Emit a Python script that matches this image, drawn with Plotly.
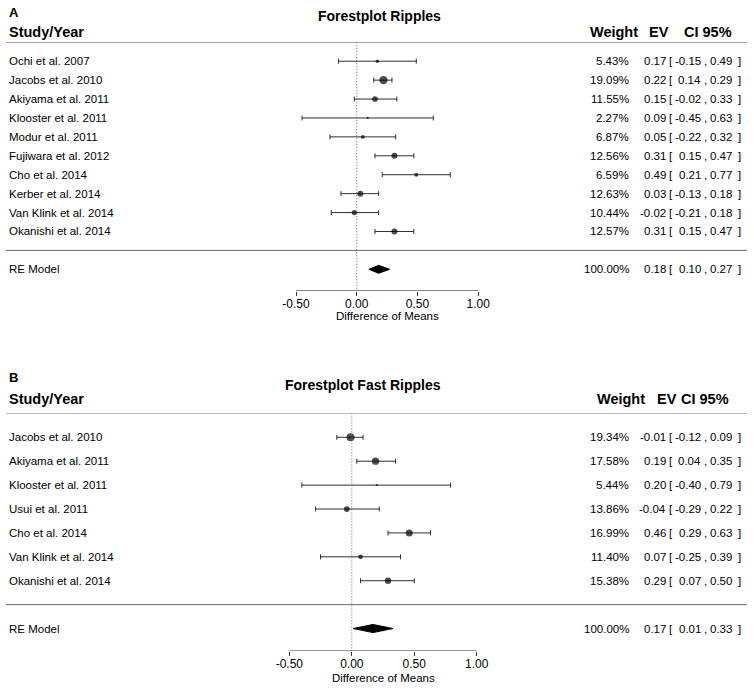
import plotly.graph_objects as go

# ---------------- data ----------------
studies_a = ["Ochi et al. 2007", "Jacobs et al. 2010", "Akiyama et al. 2011",
             "Klooster et al. 2011", "Modur et al. 2011", "Fujiwara et al. 2012",
             "Cho et al. 2014", "Kerber et al. 2014", "Van Klink et al. 2014",
             "Okanishi et al. 2014"]
weights_a = [5.43, 19.09, 11.55, 2.27, 6.87, 12.56, 6.59, 12.63, 10.44, 12.57]
ev_a = [0.17, 0.22, 0.15, 0.09, 0.05, 0.31, 0.49, 0.03, -0.02, 0.31]
lo_a = [-0.15, 0.14, -0.02, -0.45, -0.22, 0.15, 0.21, -0.13, -0.21, 0.15]
hi_a = [0.49, 0.29, 0.33, 0.63, 0.32, 0.47, 0.77, 0.18, 0.18, 0.47]
re_a = [100.00, 0.18, 0.10, 0.27]  # weight, EV, lower, upper

studies_b = ["Jacobs et al. 2010", "Akiyama et al. 2011", "Klooster et al. 2011",
             "Usui et al. 2011", "Cho et al. 2014", "Van Klink et al. 2014",
             "Okanishi et al. 2014"]
weights_b = [19.34, 17.58, 5.44, 13.86, 16.99, 11.40, 15.38]
ev_b = [-0.01, 0.19, 0.20, -0.04, 0.46, 0.07, 0.29]
lo_b = [-0.12, 0.04, -0.40, -0.29, 0.29, -0.25, 0.07]
hi_b = [0.09, 0.35, 0.79, 0.22, 0.63, 0.39, 0.50]
re_b = [100.00, 0.17, 0.01, 0.33]

tick_vals = [-0.5, 0.0, 0.5, 1.0]
tick_text = ["-0.50", "0.00", "0.50", "1.00"]
titles = ["Forestplot Ripples", "Forestplot Fast Ripples"]
panel_letters = ["A", "B"]
x_label = "Difference of Means"

# ---------------- layout constants ----------------
W, H = 754, 689
FONT = "Liberation Sans, Arial, Helvetica, sans-serif"
BODY = 11.5


def py(px):
    """pixel y (from top) -> paper y"""
    return 1 - px / H


def pxx(px):
    return px / W


panels = [
    dict(studies=studies_a, w=weights_a, ev=ev_a, lo=lo_a, hi=hi_a, re=re_a,
         x0px=356.75, ppu=121.5, top=42.3, bottom=290.7, kbot=12.13,
         letter_y=12.5, title_x=318, title_y=15.5, head_y=31.7,
         head_x=[614, 659, 708.3], xlab_y=316, diam_h=0.21, smin=2.3, smax=8.3),
    dict(studies=studies_b, w=weights_b, ev=ev_b, lo=lo_b, hi=hi_b, re=re_b,
         x0px=351.8, ppu=124.9, top=413.4, bottom=651, kbot=8.94,
         letter_y=377.3, title_x=285, title_y=385, head_y=399,
         head_x=[621, 666.7, 705.2], xlab_y=677.5, diam_h=0.17, smin=2.3, smax=8.0),
]

fig = go.Figure()
annotations = []
shapes = []

for i, p in enumerate(panels):
    xa = "x" if i == 0 else "x2"
    ya = "y" if i == 0 else "y2"
    n = len(p["studies"])
    rows = list(range(n))
    k_sep = n
    k_re = n + 1

    wmin, wmax = min(p["w"]), max(p["w"])
    sizes = [p["smin"] + (w - wmin) / (wmax - wmin) * (p["smax"] - p["smin"]) for w in p["w"]]

    # study estimates with CIs
    fig.add_trace(go.Scatter(
        x=p["ev"], y=rows, xaxis=xa, yaxis=ya, mode="markers",
        marker=dict(size=sizes, color="black", line=dict(width=0)),
        error_x=dict(type="data", symmetric=False,
                     array=[h - e for h, e in zip(p["hi"], p["ev"])],
                     arrayminus=[e - l for e, l in zip(p["ev"], p["lo"])],
                     width=2.5, thickness=1, color="#2e2e2e"),
        showlegend=False, hoverinfo="skip"))

    # RE model diamond
    rw, rev, rlo, rhi = p["re"]
    h = p["diam_h"]
    fig.add_trace(go.Scatter(
        x=[rlo, rev, rhi, rev, rlo], y=[k_re, k_re - h, k_re, k_re + h, k_re],
        xaxis=xa, yaxis=ya, mode="lines", fill="toself", fillcolor="black",
        line=dict(color="black", width=1), showlegend=False, hoverinfo="skip"))

    # separators
    for k in (-1, k_sep):
        shapes.append(dict(type="line", xref="paper", yref=ya, x0=pxx(6), x1=pxx(747),
                           y0=k, y1=k, line=dict(color="#6a6a6a", width=1)))
    # zero reference line
    shapes.append(dict(type="line", xref=xa, yref=ya, x0=0, x1=0, y0=-1, y1=p["kbot"],
                       line=dict(color="#666666", width=1, dash="1px,2px")))
    # axis line
    shapes.append(dict(type="line", xref=xa, yref=ya, x0=tick_vals[0], x1=tick_vals[-1],
                       y0=p["kbot"], y1=p["kbot"], line=dict(color="#333333", width=1)))

    # letters, titles, headers
    annotations.append(dict(text="<b>%s</b>" % panel_letters[i], xref="paper", yref="paper",
                            x=pxx(6.5), y=py(p["letter_y"]), xanchor="left", yanchor="middle",
                            showarrow=False, font=dict(size=13, color="black", family=FONT)))
    annotations.append(dict(text="<b>%s</b>" % titles[i], xref="paper", yref="paper",
                            x=pxx(p["title_x"] - 2), y=py(p["title_y"]), xanchor="left",
                            yanchor="middle", showarrow=False,
                            font=dict(size=14, color="black", family=FONT)))
    annotations.append(dict(text="<b>Study/Year</b>", xref="paper", yref="paper",
                            x=pxx(6.5), y=py(p["head_y"]), xanchor="left", yanchor="middle",
                            showarrow=False, font=dict(size=14.5, color="black", family=FONT)))
    for txt, hx in zip(["Weight", "EV", "CI 95%"], p["head_x"]):
        annotations.append(dict(text="<b>%s</b>" % txt, xref="paper", yref="paper",
                                x=pxx(hx), y=py(p["head_y"]), xanchor="center", yanchor="middle",
                                showarrow=False, font=dict(size=14.5, color="black", family=FONT)))

    # row texts
    labels = p["studies"] + ["RE Model"]
    ws = p["w"] + [rw]
    evs = p["ev"] + [rev]
    los = p["lo"] + [rlo]
    his = p["hi"] + [rhi]
    ks = rows + [k_re]
    fb = dict(size=BODY, color="black", family=FONT)

    def txt(s, x, k, anchor):
        annotations.append(dict(text=s, xref="paper", yref=ya, x=pxx(x), y=k,
                                xanchor=anchor, yanchor="middle", showarrow=False, font=fb))

    for lab, w, e, lo, hi, k in zip(labels, ws, evs, los, his, ks):
        txt(lab, 6.5, k, "left")
        txt("%.2f%%" % w, 631, k, "right")
        txt("%.2f" % e, 667.5, k, "right")
        txt("[", 670.5, k, "center")
        txt("%.2f" % lo, 702.5, k, "right")
        txt(",", 705, k, "center")
        txt("%.2f" % hi, 733.5, k, "right")
        txt("]", 739.5, k, "center")

    # x-axis label
    annotations.append(dict(text=x_label, xref=xa, yref="paper", x=(tick_vals[0] + tick_vals[-1]) / 2,
                            y=py(p["xlab_y"]), xanchor="center", yanchor="middle",
                            showarrow=False, font=dict(size=BODY, color="black", family=FONT)))

    xr = [-p["x0px"] / p["ppu"], (W - p["x0px"]) / p["ppu"]]
    axis_x = dict(domain=[0, 1], range=xr, showgrid=False, zeroline=False, showline=False,
                  tickmode="array", tickvals=tick_vals, ticktext=tick_text, ticks="outside",
                  ticklen=4, tickwidth=1, tickcolor="#333333", anchor=ya,
                  ticklabelstandoff=-2,
                  tickfont=dict(size=12, color="black", family=FONT), fixedrange=True)
    axis_y = dict(domain=[py(p["bottom"]), py(p["top"])], range=[p["kbot"], -1],
                  visible=False, showgrid=False, zeroline=False, anchor=xa, fixedrange=True)
    if i == 0:
        fig.update_layout(xaxis=axis_x, yaxis=axis_y)
    else:
        fig.update_layout(xaxis2=axis_x, yaxis2=axis_y)

fig.update_layout(width=W, height=H, autosize=False,
                  margin=dict(l=0, r=0, t=0, b=0),
                  paper_bgcolor="white", plot_bgcolor="white",
                  font=dict(family=FONT, color="black"),
                  annotations=annotations, shapes=shapes, showlegend=False)

fig.write_html("out.html", config={"displayModeBar": False},
               post_script="document.body.style.margin='0px';document.body.style.overflow='hidden';")
